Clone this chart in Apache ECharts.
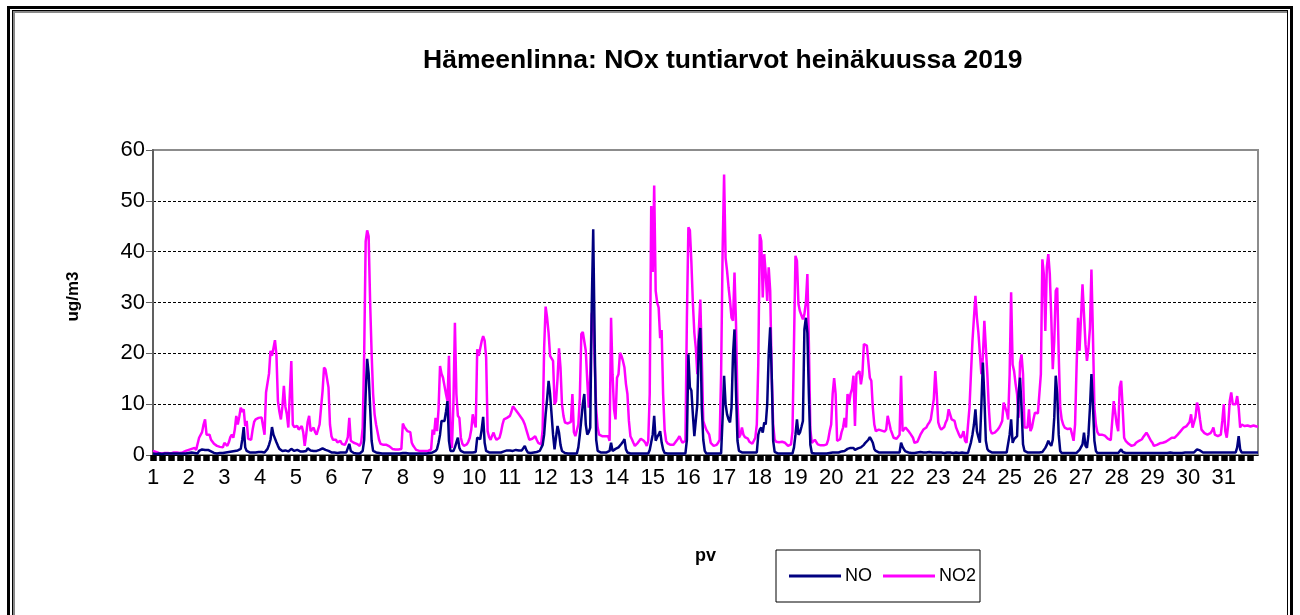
<!DOCTYPE html>
<html>
<head>
<meta charset="utf-8">
<title>Hämeenlinna NOx</title>
<script src="https://cdn.jsdelivr.net/npm/echarts@6/dist/echarts.min.js"></script>
<style>
  html, body { margin: 0; padding: 0; background: #fff; overflow: hidden; }
  #wrap { position: relative; width: 1300px; height: 615px; overflow: hidden; }
  #chart { position: absolute; left: 0; top: 0; width: 1300px; height: 615px; }
  .frame { position: absolute; pointer-events: none; box-sizing: border-box; }
  #outer { left: 7px; top: 6px; width: 1286px; height: 700px; border: 3px solid #000; }
  #inner { left: 12px; top: 10px; width: 1276px; height: 700px; border: 1px solid #000; box-shadow: inset 2px 2px 0 #888; }
</style>
</head>
<body>
<div id="wrap">
  <div id="chart"></div>
  <div id="outer" class="frame"></div>
  <div id="inner" class="frame"></div>
</div>
<script>
  // päivät (heinäkuu 2019), tunnit 0-23
  var days = ['1','2','3','4','5','6','7','8','9','10','11','12','13','14','15','16',
              '17','18','19','20','21','22','23','24','25','26','27','28','29','30','31'];
  var hours = ['0','1','2','3','4','5','6','7','8','9','10','11','12','13','14','15',
               '16','17','18','19','20','21','22','23'];
  var yTicks = [0, 10, 20, 30, 40, 50, 60];

  // NO, ug/m3, tuntiarvot (yksi rivi = yksi päivä)
  var no = [
    0.3,0.3,0.2,0.2, 0.3,0.2,0.2,0.3, 0.3,0.2,0.3,0.4, 0.3,0.2,0.3,0.4, 0.3,0.3,0.3,0.2, 0.3,0.3,0.3,0.4,
    0.4,0.4,0.5,0.5, 0.4,0.4,0.3,0.8, 1.0,1.1,1.2,1.0, 0.9,1.0,0.9,0.7, 0.5,0.4,0.4,0.3, 0.3,0.4,0.5,0.4,
    0.4,0.5,0.4,0.6, 0.8,0.7,0.6,0.8, 1.0,0.9,0.8,1.2, 3.0,5.5,1.5,0.8, 0.6,0.5,0.5,0.5, 0.6,0.5,0.6,0.6,
    0.7,0.6,0.5,0.5, 0.8,1.2,2.0,3.0, 5.5,4.0,3.7,2.5, 1.8,1.2,0.9,0.8, 1.0,0.9,0.8,0.7, 1.0,1.2,0.9,0.8,
    0.9,1.0,0.8,0.7, 0.9,0.7,0.6,0.8, 1.3,1.0,0.9,1.1, 0.8,0.9,0.8,0.9, 1.0,1.2,1.3,1.1, 1.0,0.9,0.8,0.6,
    0.5,0.6,0.5,0.5, 0.4,0.5,0.5,0.6, 0.5,0.6,0.5,0.8, 2.2,0.8,0.5,0.4, 0.3,0.3,0.3,0.3, 0.3,0.8,3.0,12.0,
    18.9,16.0,9.3,2.8, 0.8,0.6,0.5,0.5, 0.4,0.4,0.3,0.3, 0.3,0.3,0.3,0.3, 0.3,0.3,0.3,0.3, 0.3,0.3,0.3,0.3,
    0.4,0.5,0.4,0.4, 0.3,0.3,0.3,0.3, 0.3,0.3,0.3,0.3, 0.3,0.3,0.3,0.3, 0.3,0.3,0.4,0.5, 0.5,0.6,0.8,1.2,
    2.4,4.0,6.7,6.8, 6.7,8.5,10.6,2.8, 0.8,0.8,0.8,1.5, 2.5,3.4,1.4,0.8, 0.6,0.5,0.5,0.5, 0.5,0.5,0.5,0.5,
    0.5,0.6,3.4,3.2, 3.1,5.0,7.5,2.4, 0.8,0.6,0.5,0.5, 0.5,0.5,0.5,0.5, 0.5,0.5,0.5,0.6, 0.7,0.8,0.9,0.8,
    0.9,1.0,0.8,0.9, 1.0,0.8,0.9,1.0, 0.9,1.2,1.8,1.0, 0.5,0.4,0.4,0.4, 0.5,0.5,0.6,0.7, 0.8,0.8,2.0,4.0,
    8.0,11.0,14.6,12.0, 8.0,4.0,1.1,3.5, 5.7,4.4,2.0,0.8, 0.5,0.4,0.3,0.3, 0.3,0.3,0.3,0.3, 0.3,0.3,1.5,4.0,
    7.0,10.0,12.0,6.0, 4.0,4.5,5.4,29.0, 44.4,22.0,3.0,0.8, 0.5,0.5,0.5,0.5, 0.5,0.5,0.5,0.8, 2.4,0.8,1.0,1.2,
    1.4,1.5,1.8,2.2, 2.6,3.1,1.1,0.5, 0.3,0.3,0.3,0.3, 0.3,0.3,0.3,0.3, 0.3,0.3,0.3,0.3, 0.3,0.3,1.0,2.5,
    4.0,7.7,2.8,3.5, 4.0,4.7,2.5,1.1, 0.4,0.3,0.3,0.3, 0.3,0.3,0.3,0.3, 0.3,0.3,0.3,0.3, 0.3,0.3,0.3,3.0,
    19.8,13.3,12.7,8.0, 3.7,3.5,10.0,22.4, 25.0,9.3,3.0,0.8, 0.3,0.3,0.3,0.3, 0.3,0.3,0.3,0.3, 0.3,0.3,0.3,7.3,
    15.6,10.0,8.0,7.0, 6.4,9.3,19.8,24.7, 12.6,2.8,0.8,0.5, 0.5,0.5,0.5,0.5, 0.5,0.5,0.5,0.5, 0.5,0.5,0.5,4.0,
    5.0,5.4,4.4,6.4, 6.0,10.0,19.8,25.1, 16.0,2.8,0.6,0.3, 0.3,0.3,0.3,0.3, 0.3,0.3,0.3,0.3, 0.3,0.3,0.3,1.5,
    4.0,7.0,4.0,4.4, 5.5,6.7,24.7,27.0, 24.0,12.0,2.0,0.4, 0.4,0.3,0.3,0.3, 0.4,0.3,0.3,0.3, 0.4,0.3,0.4,0.4,
    0.4,0.5,0.6,0.5, 0.4,0.5,0.6,0.7, 0.8,0.8,0.9,1.2, 1.3,1.4,1.3,1.4, 1.0,1.2,1.3,1.4, 1.5,1.6,2.0,2.4,
    2.4,3.0,3.5,3.0, 2.4,1.2,0.8,0.6, 0.5,0.5,0.5,0.5, 0.5,0.5,0.5,0.5, 0.5,0.5,0.5,0.5, 0.5,0.5,0.5,2.4,
    1.6,1.1,0.7,0.5, 0.5,0.4,0.4,0.5, 0.4,0.4,0.5,0.5, 0.6,0.5,0.5,0.6, 0.5,0.5,0.6,0.5, 0.5,0.5,0.5,0.5,
    0.5,0.4,0.5,0.5, 0.4,0.5,0.5,0.6, 0.5,0.5,0.4,0.5, 0.5,0.5,0.4,0.4, 0.5,0.5,0.4,0.4, 0.4,0.6,2.5,4.0,
    6.0,9.0,4.7,3.5, 2.4,9.8,18.2,11.4, 2.8,1.2,0.8,0.5, 0.5,0.5,0.5,0.5, 0.5,0.5,0.5,0.5, 0.5,0.5,0.5,0.5,
    4.0,7.0,2.4,3.1, 3.4,3.7,12.0,15.2, 9.3,2.1,0.8,0.5, 0.5,0.5,0.5,0.5, 0.5,0.5,0.5,0.5, 0.5,0.5,0.6,0.8,
    1.4,2.0,2.8,2.2, 1.8,3.0,7.3,15.6, 12.0,4.0,0.8,0.4, 0.4,0.4,0.4,0.4, 0.4,0.4,0.4,0.4, 0.4,0.4,0.6,1.0,
    1.2,2.1,4.4,1.8, 1.4,4.0,9.3,15.9, 9.8,2.8,0.8,0.4, 0.4,0.4,0.4,0.4, 0.4,0.4,0.4,0.4, 0.4,0.4,0.4,0.4,
    0.4,0.4,0.5,1.1, 0.6,0.4,0.4,0.4, 0.4,0.4,0.4,0.4, 0.4,0.4,0.4,0.4, 0.4,0.4,0.4,0.4, 0.4,0.4,0.4,0.4,
    0.4,0.4,0.4,0.4, 0.4,0.4,0.4,0.5, 0.4,0.4,0.4,0.4, 0.5,0.4,0.4,0.4, 0.4,0.5,0.4,0.4, 0.4,0.4,0.5,0.5,
    0.5,0.5,0.5,0.5, 0.5,0.6,1.1,1.0, 0.9,0.7,0.5,0.5, 0.5,0.5,0.5,0.5, 0.5,0.5,0.5,0.5, 0.5,0.5,0.5,0.5,
    0.5,0.5,0.5,0.5, 0.5,0.5,0.5,0.5, 0.5,1.5,3.7,1.1, 0.5,0.5,0.5,0.5, 0.5,0.5,0.5,0.5, 0.5,0.5,0.5,0.5
  ];

  // NO2, ug/m3, tuntiarvot (yksi rivi = yksi päivä)
  var no2 = [
    0.8,0.7,0.6,0.5, 0.4,0.4,0.3,0.3, 0.4,0.4,0.4,0.5, 0.3,0.3,0.5,0.6, 0.5,0.6,0.4,0.3, 0.5,0.6,0.8,1.0,
    1.0,1.1,1.2,1.4, 1.4,1.0,0.8,3.4, 3.5,4.5,6.0,7.0, 4.0,4.2,4.0,3.0, 2.6,2.2,2.0,1.8, 1.6,1.6,1.5,1.5,
    2.4,2.1,1.8,2.5, 3.5,4.0,3.4,5.0, 7.7,6.0,7.5,9.3, 8.5,9.0,5.7,6.7, 3.2,3.0,3.0,5.0, 6.5,7.0,7.2,7.3,
    7.3,7.4,7.2,4.0, 12.3,12.0,16.0,20.5, 19.5,21.0,22.6,19.7, 10.6,8.5,7.0,9.5, 13.6,9.5,8.0,5.4, 12.0,18.5,6.0,5.5,
    5.5,5.7,5.0,4.8, 5.7,4.5,1.8,4.0, 6.5,7.7,4.7,5.0, 5.4,4.5,4.0,3.7, 6.0,9.3,12.5,17.2, 16.8,16.5,13.3,6.0,
    3.7,3.0,2.8,3.0, 2.5,2.4,2.8,2.2, 2.3,2.0,2.6,3.5, 7.3,2.8,2.5,2.4, 2.3,2.2,2.0,1.8, 2.5,5.4,20.0,42.0,
    44.2,43.0,30.0,20.0, 12.0,8.0,6.0,4.5, 3.0,2.2,2.1,2.0, 2.0,2.0,1.9,1.7, 1.4,1.2,1.1,1.1, 1.0,1.1,1.1,1.2,
    6.2,5.5,5.7,4.7, 5.0,4.5,2.4,1.8, 1.4,1.0,0.8,0.8, 0.9,0.8,0.8,0.8, 0.8,0.8,0.9,1.1, 5.0,4.0,7.3,4.7,
    9.0,17.5,16.0,15.2, 13.6,12.0,10.6,19.5, 4.7,1.4,10.0,26.0, 12.0,7.7,7.3,3.4, 2.2,1.8,2.0,2.1, 2.6,3.4,5.0,8.0,
    6.5,5.4,20.8,19.5, 19.2,22.4,23.4,22.5, 19.2,4.7,3.5,3.0, 3.8,4.4,3.5,3.0, 3.2,3.4,4.5,6.0, 7.0,7.2,7.3,7.5,
    7.7,8.5,9.6,9.2, 8.8,8.5,8.0,7.7, 7.2,6.7,6.0,5.0, 4.0,3.0,2.8,3.2, 3.4,3.7,3.0,2.4, 2.2,2.1,5.0,21.0,
    29.2,27.0,24.0,19.5, 19.0,18.5,10.0,10.6, 15.0,21.0,17.2,10.0, 7.7,6.4,6.3,6.2, 6.0,6.5,12.0,4.5, 3.7,3.4,6.0,11.3,
    23.8,24.2,24.0,20.5, 14.6,9.3,15.9,27.7, 29.0,18.0,9.0,5.4, 4.0,3.8,3.7,3.7, 3.7,3.6,3.7,2.8, 27.0,15.9,9.0,7.0,
    15.2,15.9,20.1,19.5, 18.5,17.2,14.0,12.0, 6.7,3.7,3.1,2.4, 1.8,2.0,2.4,2.8, 3.2,3.4,2.8,2.4, 1.8,2.8,12.0,49.0,
    36.0,53.0,32.3,30.0, 29.0,23.0,24.6,12.0, 5.0,2.8,2.3,2.1, 2.0,2.1,2.0,2.1, 2.8,3.2,3.7,3.0, 2.4,2.6,2.8,27.0,
    44.8,44.2,38.0,30.0, 24.0,21.0,15.9,24.4, 30.6,19.2,6.7,5.8, 5.0,4.5,4.0,2.4, 2.1,1.8,1.8,2.0, 2.4,3.0,15.9,40.0,
    55.2,38.8,36.2,33.0, 30.3,27.0,26.4,35.9, 26.0,10.6,3.4,4.0, 5.4,4.0,3.5,3.3, 3.2,2.6,2.4,2.2, 2.1,3.4,6.0,18.0,
    43.4,42.1,31.0,39.5, 35.6,30.3,36.9,32.3, 15.9,6.0,3.0,2.6, 2.5,2.5,2.4,2.6, 2.5,2.4,2.2,1.8, 2.0,2.1,4.7,22.0,
    39.2,38.2,29.7,28.3, 27.5,26.7,27.7,30.0, 35.6,22.0,5.0,2.4, 2.4,3.0,3.1,2.1, 2.0,1.9,1.8,1.9, 2.0,2.1,3.0,4.7,
    6.0,12.0,15.1,12.0, 2.8,3.0,3.1,4.5, 5.4,7.3,5.4,12.0, 10.0,12.0,13.0,15.6, 5.7,15.9,15.9,16.5, 13.9,15.9,21.8,21.5,
    21.5,21.2,15.2,14.6, 9.3,6.0,4.7,5.0, 5.0,4.8,4.8,4.5, 4.6,5.0,7.7,6.4, 5.0,5.0,3.4,3.1, 3.2,3.4,4.0,15.6,
    4.7,5.0,5.4,5.4, 4.7,4.3,4.0,3.4, 2.4,2.4,2.6,2.8, 4.0,4.5,5.0,5.2, 5.4,6.0,6.4,7.0, 9.0,11.0,16.5,12.0,
    6.4,5.5,5.0,4.7, 5.5,6.4,7.0,9.0, 8.0,7.0,7.0,6.7, 5.4,4.7,4.0,3.4, 3.8,4.7,2.8,2.4, 2.1,9.3,16.0,22.4,
    27.0,31.3,27.0,24.0, 20.0,15.9,19.2,26.4, 26.1,15.9,9.3,5.0, 4.2,4.0,4.4,4.7, 5.0,5.4,6.0,6.7, 10.3,10.0,8.5,7.0,
    15.9,32.0,17.8,16.5, 14.0,12.0,7.3,18.2, 19.8,15.9,5.4,5.7, 5.4,9.0,4.7,5.4, 7.0,8.3,8.0,8.2, 8.3,15.9,38.5,35.6,
    24.4,36.9,39.5,35.6, 27.0,16.9,22.4,32.3, 32.9,19.8,9.3,7.0, 6.0,5.4,5.2,5.1, 5.2,5.2,4.0,2.8, 6.0,17.2,27.0,20.5,
    20.5,33.6,27.7,21.8, 18.5,21.0,25.0,36.5, 23.8,9.3,6.0,4.5, 4.0,4.0,4.0,4.0, 3.8,3.5,3.2,3.1, 2.9,2.8,10.6,10.3,
    6.0,4.7,13.3,14.6, 9.3,3.4,2.8,2.5, 2.2,2.1,1.8,1.8, 2.0,2.4,2.6,2.8, 3.0,3.1,3.6,4.0, 4.4,3.9,3.7,2.8,
    2.4,1.8,1.9,2.0, 2.1,2.3,2.4,2.4, 2.4,2.6,2.8,3.0, 3.2,3.4,3.4,3.4, 3.7,4.0,4.3,4.7, 5.0,5.4,5.6,5.7,
    5.4,6.5,8.0,5.4, 5.7,7.5,10.3,9.3, 7.0,5.0,4.7,4.3, 4.0,4.0,4.0,4.3, 4.7,5.4,4.0,3.8, 3.7,3.8,4.0,6.7,
    10.0,4.7,3.4,6.0, 10.6,12.3,10.0,10.0, 10.0,11.6,9.3,5.4, 6.0,5.8,5.7,5.7, 5.8,5.7,5.6,5.7, 5.8,5.7,5.6,5.6
  ];

  // kategoriat: päivä + tunti
  var categories = [];
  days.forEach(function (d) {
    hours.forEach(function (h) {
      categories.push(d + '|' + h);
    });
  });

  var font = "'Liberation Sans', Arial, sans-serif";
  var chart = echarts.init(document.getElementById('chart'));

  var option = {
    animation: false,
    backgroundColor: '#fff',
    title: {
      text: 'Hämeenlinna: NOx tuntiarvot heinäkuussa 2019',
      left: 423,
      top: 47,
      padding: 0,
      textStyle: { fontFamily: font, fontSize: 26.5, fontWeight: 'bold', color: '#000' }
    },
    legend: {
      data: ['NO', 'NO2'],
      left: 776,
      top: 550,
      orient: 'horizontal',
      icon: 'rect',
      itemWidth: 52,
      itemHeight: 3,
      itemGap: 11,
      padding: [17, 4, 17, 13],
      borderColor: '#000',
      borderWidth: 1,
      textStyle: { fontFamily: font, fontSize: 18, color: '#000', padding: [0, 0, 0, -1] }
    },
    grid: {
      left: 153,
      top: 150,
      width: 1105,
      height: 305,
      show: true,
      borderColor: '#8c8c8c',
      borderWidth: 2,
      containLabel: false
    },
    xAxis: {
      type: 'category',
      data: categories,
      boundaryGap: false,
      name: 'pv',
      nameLocation: 'middle',
      nameGap: 92,
      nameTextStyle: { fontFamily: font, fontSize: 18, fontWeight: 'bold', color: '#000' },
      axisLine: { lineStyle: { color: '#000', width: 1 } },
      axisTick: { interval: 5, length: 6, lineStyle: { color: '#000', width: 6.5 } },
      axisLabel: {
        interval: 23,
        margin: 12,
        fontFamily: font,
        fontSize: 22,
        color: '#000',
        formatter: function (v) { return v.split('|')[0]; }
      },
      splitLine: { show: false }
    },
    yAxis: {
      type: 'value',
      min: yTicks[0],
      max: yTicks[yTicks.length - 1],
      interval: 10,
      name: 'ug/m3',
      nameLocation: 'middle',
      nameGap: 71,
      nameRotate: 90,
      nameTextStyle: { fontFamily: font, fontSize: 17, fontWeight: 'bold', color: '#000', padding: [0, 0, 0, 12] },
      axisLine: { show: true, lineStyle: { color: '#606060', width: 2 } },
      axisTick: { show: true, length: 7, lineStyle: { color: '#606060', width: 1 } },
      axisLabel: { margin: 8, fontFamily: font, fontSize: 22, color: '#000' },
      splitLine: {
        show: true,
        showMinLine: false,
        showMaxLine: false,
        lineStyle: { color: '#000', width: 1, type: [3, 2] }
      }
    },
    series: [
      {
        name: 'NO',
        type: 'line',
        data: no,
        symbol: 'none',
        z: 4,
        lineStyle: { color: '#000080', width: 2.5 },
        itemStyle: { color: '#000080' }
      },
      {
        name: 'NO2',
        type: 'line',
        data: no2,
        symbol: 'none',
        z: 3,
        lineStyle: { color: '#ff00ff', width: 2.5 },
        itemStyle: { color: '#ff00ff' }
      }
    ]
  };

  chart.setOption(option);
</script>
</body>
</html>
